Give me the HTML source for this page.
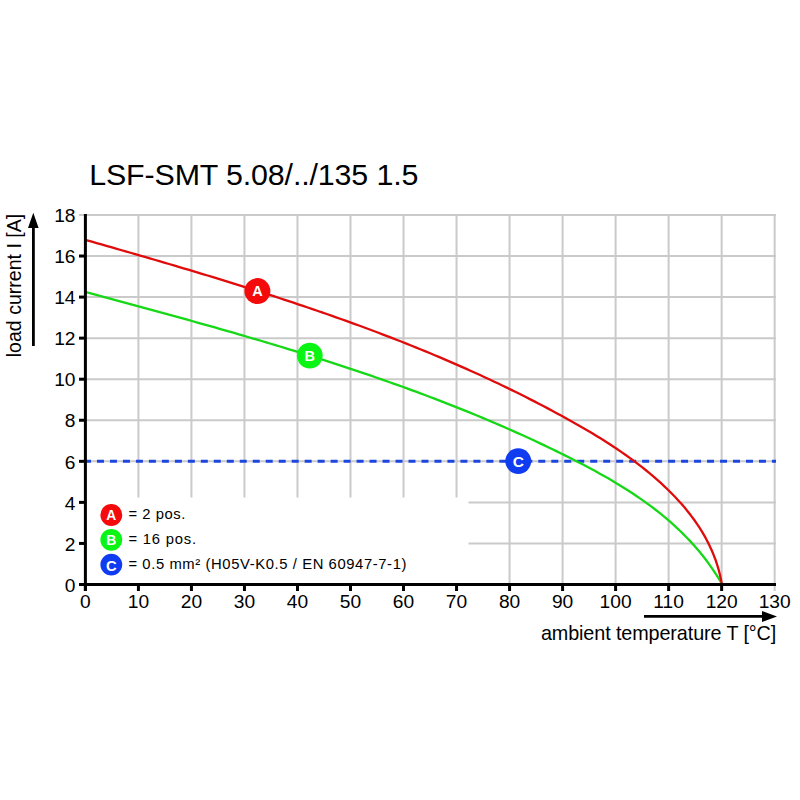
<!DOCTYPE html>
<html><head><meta charset="utf-8"><title>LSF-SMT 5.08/../135 1.5</title>
<style>html,body{margin:0;padding:0;background:#fff;width:800px;height:800px;overflow:hidden}svg{display:block}</style>
</head><body><svg width="800" height="800" viewBox="0 0 800 800"><g stroke="#cacaca" stroke-width="2"><line x1="86" y1="543.44" x2="776" y2="543.44"/><line x1="86" y1="502.38" x2="776" y2="502.38"/><line x1="86" y1="461.32" x2="776" y2="461.32"/><line x1="86" y1="420.26" x2="776" y2="420.26"/><line x1="86" y1="379.20" x2="776" y2="379.20"/><line x1="86" y1="338.14" x2="776" y2="338.14"/><line x1="86" y1="297.08" x2="776" y2="297.08"/><line x1="86" y1="256.02" x2="776" y2="256.02"/><line x1="79" y1="214.96" x2="776" y2="214.96"/><line x1="138.42" y1="214" x2="138.42" y2="584"/><line x1="191.44" y1="214" x2="191.44" y2="584"/><line x1="244.46" y1="214" x2="244.46" y2="584"/><line x1="297.48" y1="214" x2="297.48" y2="584"/><line x1="350.50" y1="214" x2="350.50" y2="584"/><line x1="403.52" y1="214" x2="403.52" y2="584"/><line x1="456.54" y1="214" x2="456.54" y2="584"/><line x1="509.56" y1="214" x2="509.56" y2="584"/><line x1="562.58" y1="214" x2="562.58" y2="584"/><line x1="615.60" y1="214" x2="615.60" y2="584"/><line x1="668.62" y1="214" x2="668.62" y2="584"/><line x1="721.64" y1="214" x2="721.64" y2="584"/><line x1="774.66" y1="214" x2="774.66" y2="591"/></g><rect x="87" y="497.5" width="381.5" height="85.5" fill="#fff"/><line x1="84" y1="461.32" x2="776" y2="461.32" stroke="#1c46e0" stroke-width="3" stroke-dasharray="7 5.98"/><polyline points="85.50,291.93 87.03,292.35 91.62,293.59 96.21,294.83 100.81,296.08 105.40,297.32 110.00,298.56 114.59,299.81 119.19,301.06 123.79,302.30 128.39,303.55 132.99,304.80 137.59,306.05 142.19,307.31 146.79,308.56 151.39,309.82 155.99,311.08 160.59,312.34 165.19,313.60 169.79,314.87 174.39,316.14 178.99,317.41 183.59,318.69 188.19,319.97 192.79,321.25 197.38,322.54 201.98,323.83 206.58,325.12 211.17,326.42 215.77,327.72 220.36,329.03 224.95,330.34 229.55,331.66 234.14,332.98 238.73,334.31 243.31,335.64 247.90,336.98 252.48,338.32 257.07,339.67 261.65,341.02 266.23,342.38 270.81,343.75 275.39,345.12 279.96,346.50 284.53,347.89 289.10,349.28 293.67,350.68 298.24,352.09 302.80,353.50 307.37,354.92 311.93,356.35 316.48,357.79 321.04,359.23 325.59,360.69 330.14,362.15 334.68,363.62 339.23,365.10 343.77,366.58 348.31,368.08 352.84,369.58 357.37,371.10 361.90,372.62 366.42,374.16 370.95,375.70 375.46,377.25 379.98,378.81 384.49,380.39 389.00,381.97 393.50,383.57 398.00,385.17 402.49,386.79 406.99,388.41 411.47,390.05 415.96,391.70 420.44,393.36 424.91,395.03 429.38,396.71 433.85,398.41 438.31,400.12 442.77,401.84 447.22,403.57 451.67,405.31 456.11,407.07 460.55,408.84 464.99,410.63 469.41,412.42 473.84,414.23 478.26,416.06 482.67,417.89 487.08,419.74 491.48,421.61 495.88,423.49 500.27,425.38 504.65,427.29 509.04,429.21 513.41,431.15 517.78,433.10 522.14,435.07 526.50,437.05 530.85,439.05 535.20,441.07 539.53,443.10 543.87,445.14 548.19,447.20 552.51,449.28 556.83,451.37 561.13,453.49 565.43,455.61 569.73,457.76 574.01,459.92 578.28,462.11 582.54,464.32 586.79,466.55 591.02,468.80 595.23,471.09 599.42,473.40 603.60,475.74 607.75,478.11 611.87,480.51 615.97,482.95 620.05,485.43 624.09,487.94 628.11,490.49 632.09,493.07 636.04,495.70 639.96,498.38 643.83,501.10 647.67,503.86 651.47,506.67 655.23,509.53 658.95,512.44 662.61,515.40 666.24,518.42 669.81,521.49 673.34,524.61 676.81,527.80 680.23,531.04 683.60,534.34 686.91,537.71 690.16,541.14 693.36,544.63 696.49,548.20 699.56,551.82 702.56,555.52 705.50,559.29 708.37,563.13 711.18,567.05 713.91,571.04 716.57,575.11 719.15,579.26 721.66,583.49" fill="none" stroke="#16d816" stroke-width="2.3" stroke-linejoin="round"/><polyline points="85.50,239.86 86.99,240.29 91.83,241.67 96.66,243.05 101.49,244.44 106.32,245.82 111.14,247.21 115.97,248.60 120.80,249.99 125.63,251.38 130.45,252.77 135.28,254.16 140.10,255.56 144.92,256.96 149.75,258.37 154.57,259.77 159.39,261.18 164.20,262.59 169.02,264.01 173.83,265.43 178.65,266.85 183.46,268.28 188.27,269.71 193.08,271.15 197.88,272.59 202.69,274.04 207.49,275.49 212.29,276.94 217.09,278.41 221.88,279.87 226.68,281.35 231.47,282.83 236.26,284.31 241.04,285.81 245.82,287.31 250.61,288.81 255.38,290.32 260.16,291.85 264.93,293.37 269.70,294.91 274.47,296.45 279.23,298.00 283.99,299.56 288.75,301.13 293.50,302.71 298.25,304.29 303.00,305.89 307.74,307.49 312.48,309.10 317.21,310.73 321.95,312.36 326.68,314.00 331.40,315.65 336.12,317.32 340.84,318.99 345.55,320.67 350.26,322.37 354.96,324.08 359.66,325.79 364.36,327.52 369.05,329.26 373.73,331.02 378.41,332.78 383.09,334.56 387.76,336.35 392.43,338.15 397.09,339.97 401.75,341.80 406.40,343.64 411.05,345.49 415.69,347.36 420.33,349.24 424.96,351.14 429.59,353.05 434.21,354.98 438.83,356.92 443.44,358.87 448.04,360.84 452.64,362.83 457.23,364.83 461.82,366.85 466.40,368.88 470.97,370.93 475.54,372.99 480.10,375.07 484.66,377.17 489.21,379.28 493.75,381.42 498.29,383.56 502.82,385.73 507.35,387.91 511.86,390.12 516.37,392.33 520.88,394.57 525.37,396.83 529.86,399.10 534.35,401.39 538.82,403.71 543.29,406.04 547.75,408.39 552.21,410.76 556.65,413.15 561.09,415.56 565.52,417.99 569.95,420.44 574.36,422.91 578.76,425.41 583.14,427.93 587.51,430.49 591.85,433.07 596.18,435.68 600.48,438.32 604.75,441.00 609.00,443.71 613.22,446.46 617.41,449.25 621.56,452.08 625.67,454.95 629.75,457.86 633.79,460.82 637.78,463.83 641.73,466.88 645.63,469.98 649.49,473.14 653.29,476.35 657.04,479.61 660.74,482.92 664.38,486.30 667.95,489.73 671.47,493.23 674.92,496.79 678.30,500.41 681.61,504.09 684.83,507.85 687.96,511.67 691.00,515.56 693.94,519.53 696.78,523.57 699.51,527.68 702.13,531.87 704.62,536.14 706.99,540.49 709.23,544.92 711.33,549.44 713.29,554.04 715.10,558.72 716.76,563.50 718.26,568.36 719.60,573.32 720.76,578.37 721.76,583.51" fill="none" stroke="#e00c0c" stroke-width="2.3" stroke-linejoin="round"/><line x1="85.4" y1="214" x2="85.4" y2="591" stroke="#000" stroke-width="3"/><line x1="79" y1="584.5" x2="776" y2="584.5" stroke="#000" stroke-width="3"/><line x1="79" y1="584.50" x2="86" y2="584.50" stroke="#000" stroke-width="3"/><line x1="79" y1="543.44" x2="86" y2="543.44" stroke="#000" stroke-width="3"/><line x1="79" y1="502.38" x2="86" y2="502.38" stroke="#000" stroke-width="3"/><line x1="79" y1="461.32" x2="86" y2="461.32" stroke="#000" stroke-width="3"/><line x1="79" y1="420.26" x2="86" y2="420.26" stroke="#000" stroke-width="3"/><line x1="79" y1="379.20" x2="86" y2="379.20" stroke="#000" stroke-width="3"/><line x1="79" y1="338.14" x2="86" y2="338.14" stroke="#000" stroke-width="3"/><line x1="79" y1="297.08" x2="86" y2="297.08" stroke="#000" stroke-width="3"/><line x1="79" y1="256.02" x2="86" y2="256.02" stroke="#000" stroke-width="3"/><line x1="85.40" y1="584" x2="85.40" y2="591" stroke="#000" stroke-width="3"/><line x1="138.42" y1="584" x2="138.42" y2="591" stroke="#000" stroke-width="3"/><line x1="191.44" y1="584" x2="191.44" y2="591" stroke="#000" stroke-width="3"/><line x1="244.46" y1="584" x2="244.46" y2="591" stroke="#000" stroke-width="3"/><line x1="297.48" y1="584" x2="297.48" y2="591" stroke="#000" stroke-width="3"/><line x1="350.50" y1="584" x2="350.50" y2="591" stroke="#000" stroke-width="3"/><line x1="403.52" y1="584" x2="403.52" y2="591" stroke="#000" stroke-width="3"/><line x1="456.54" y1="584" x2="456.54" y2="591" stroke="#000" stroke-width="3"/><line x1="509.56" y1="584" x2="509.56" y2="591" stroke="#000" stroke-width="3"/><line x1="562.58" y1="584" x2="562.58" y2="591" stroke="#000" stroke-width="3"/><line x1="615.60" y1="584" x2="615.60" y2="591" stroke="#000" stroke-width="3"/><line x1="668.62" y1="584" x2="668.62" y2="591" stroke="#000" stroke-width="3"/><line x1="721.64" y1="584" x2="721.64" y2="591" stroke="#000" stroke-width="3"/><g font-family="Liberation Sans, sans-serif" font-size="19.2" fill="#000"><text x="75.5" y="591.70" text-anchor="end">0</text><text x="75.5" y="550.64" text-anchor="end">2</text><text x="75.5" y="509.58" text-anchor="end">4</text><text x="75.5" y="468.52" text-anchor="end">6</text><text x="75.5" y="427.46" text-anchor="end">8</text><text x="75.5" y="386.40" text-anchor="end">10</text><text x="75.5" y="345.34" text-anchor="end">12</text><text x="75.5" y="304.28" text-anchor="end">14</text><text x="75.5" y="263.22" text-anchor="end">16</text><text x="75.5" y="222.16" text-anchor="end">18</text><text x="85.40" y="607.9" text-anchor="middle">0</text><text x="138.42" y="607.9" text-anchor="middle">10</text><text x="191.44" y="607.9" text-anchor="middle">20</text><text x="244.46" y="607.9" text-anchor="middle">30</text><text x="297.48" y="607.9" text-anchor="middle">40</text><text x="350.50" y="607.9" text-anchor="middle">50</text><text x="403.52" y="607.9" text-anchor="middle">60</text><text x="456.54" y="607.9" text-anchor="middle">70</text><text x="509.56" y="607.9" text-anchor="middle">80</text><text x="562.58" y="607.9" text-anchor="middle">90</text><text x="615.60" y="607.9" text-anchor="middle">100</text><text x="668.62" y="607.9" text-anchor="middle">110</text><text x="721.64" y="607.9" text-anchor="middle">120</text><text x="774.66" y="607.9" text-anchor="middle">130</text></g><text x="89.2" y="185.2" font-family="Liberation Sans, sans-serif" font-size="30.4" textLength="329.2" lengthAdjust="spacing" fill="#000">LSF-SMT 5.08/../135 1.5</text><text transform="translate(20.9,357.3) rotate(-90)" font-family="Liberation Sans, sans-serif" font-size="19.6" textLength="143.6" lengthAdjust="spacing" fill="#000">load current I [A]</text><text x="540.9" y="639.8" font-family="Liberation Sans, sans-serif" font-size="19.8" textLength="235.4" lengthAdjust="spacing" fill="#000">ambient temperature T [°C]</text><line x1="33.4" y1="346" x2="33.4" y2="226" stroke="#000" stroke-width="2.8"/><polygon points="33.3,212.8 28,228 38.6,228" fill="#000"/><line x1="644" y1="616.4" x2="764" y2="616.4" stroke="#000" stroke-width="2.8"/><polygon points="777,616.4 762,611 762,622" fill="#000"/><circle cx="257.4" cy="291.1" r="13" fill="#f40a0a"/><text x="257.4" y="296.32" text-anchor="middle" font-family="Liberation Sans, sans-serif" font-weight="bold" font-size="14.5" fill="#fff">A</text><circle cx="309.8" cy="355.6" r="12.9" fill="#0af514"/><text x="309.8" y="360.82" text-anchor="middle" font-family="Liberation Sans, sans-serif" font-weight="bold" font-size="14.5" fill="#fff">B</text><circle cx="518.25" cy="461.1" r="12.9" fill="#0f3cf0"/><text x="518.25" y="467.31" text-anchor="middle" font-family="Liberation Sans, sans-serif" font-weight="bold" font-size="15.515" fill="#fff">C</text><circle cx="111.3" cy="515" r="10.9" fill="#f40a0a"/><text x="111.3" y="519.97" text-anchor="middle" font-family="Liberation Sans, sans-serif" font-weight="bold" font-size="13.8" fill="#fff">A</text><circle cx="111.3" cy="539.8" r="10.9" fill="#0af514"/><text x="111.3" y="544.77" text-anchor="middle" font-family="Liberation Sans, sans-serif" font-weight="bold" font-size="13.8" fill="#fff">B</text><circle cx="111.3" cy="564.6" r="10.9" fill="#0f3cf0"/><text x="111.3" y="570.51" text-anchor="middle" font-family="Liberation Sans, sans-serif" font-weight="bold" font-size="14.766000000000002" fill="#fff">C</text><g font-family="Liberation Sans, sans-serif" font-size="14.8" fill="#000"><text x="128.4" y="519" textLength="57" lengthAdjust="spacing">= 2 pos.</text><text x="128.4" y="543.9" textLength="67.6" lengthAdjust="spacing">= 16 pos.</text><text x="128.4" y="568.9" textLength="278" lengthAdjust="spacing">= 0.5 mm² (H05V-K0.5 / EN 60947-7-1)</text></g></svg></body></html>
